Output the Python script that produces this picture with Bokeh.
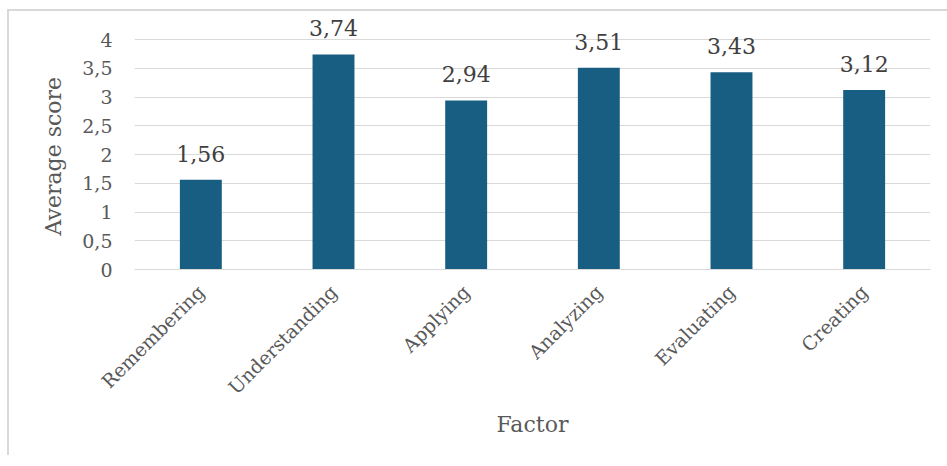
import math
from bokeh.plotting import figure
from bokeh.models import ColumnDataSource, FactorRange, Range1d, FixedTicker, CustomJSTickFormatter, Title
from bokeh.core.properties import value
from bokeh.embed import file_html
from bokeh.resources import INLINE

# Average score per Bloom's taxonomy factor
factors = ["Remembering", "Understanding", "Applying", "Analyzing", "Evaluating", "Creating"]
scores = [1.56, 3.74, 2.94, 3.51, 3.43, 3.12]
y_ticks = [0, 0.5, 1, 1.5, 2, 2.5, 3, 3.5, 4]

FONT = "DejaVu Serif"
BAR = "#175E82"
GRID = "#D9D9D9"
TICK_TXT = "#595959"
VAL_TXT = "#404040"

source = ColumnDataSource(dict(
    factor=factors,
    score=scores,
    label=[f"{s:.2f}".replace(".", ",") for s in scores],
))

p = figure(
    x_range=FactorRange(*factors, range_padding=0),
    y_range=Range1d(0, 4.47),
    frame_width=796, frame_height=257,
    min_border_left=125, min_border_right=17,
    min_border_top=1, min_border_bottom=186,
    output_backend="svg", toolbar_location=None,
    background_fill_color="white", border_fill_color="white",
)
p.styles = {
    "margin-left": "7px", "margin-top": "9px",
    "border-left": f"2px solid {GRID}", "border-top": f"2px solid {GRID}",
}
p.outline_line_color = None

p.vbar(x="factor", top="score", width=0.316, source=source,
       fill_color=BAR, line_color=None)

p.text(x="factor", y="score", text="label", source=source,
       text_align="center", text_baseline="alphabetic", y_offset=-26,
       text_font=value(FONT), text_font_size="22px", text_color=VAL_TXT)

# y axis
p.yaxis.ticker = FixedTicker(ticks=y_ticks)
p.yaxis.formatter = CustomJSTickFormatter(code="return tick.toString().replace('.', ',');")
p.yaxis.axis_line_color = None
p.yaxis.major_tick_line_color = None
p.yaxis.minor_tick_line_color = None
p.yaxis.major_tick_out = 0
p.yaxis.major_label_standoff = 22
p.yaxis.major_label_text_font = FONT
p.yaxis.major_label_text_font_size = "19px"
p.yaxis.major_label_text_color = TICK_TXT

# y axis title, placed along the 0-4 span
p.add_layout(Title(text="Average score", align="left", offset=34, standoff=27,
                   text_font=FONT, text_font_size="22px", text_font_style="normal",
                   text_color=TICK_TXT), "left")

p.ygrid.ticker = FixedTicker(ticks=y_ticks)
p.ygrid.grid_line_color = GRID
p.ygrid.grid_line_width = 1
p.xgrid.grid_line_color = None

# x axis
p.xaxis.axis_line_color = GRID
p.xaxis.axis_line_width = 1
p.xaxis.major_tick_line_color = None
p.xaxis.major_tick_out = 0
p.xaxis.major_label_orientation = math.pi / 4
p.xaxis.major_label_standoff = 19
p.xaxis.major_label_text_font = FONT
p.xaxis.major_label_text_font_size = "19px"
p.xaxis.major_label_text_color = TICK_TXT
p.xaxis.axis_label = "Factor"
p.xaxis.axis_label_text_font = FONT
p.xaxis.axis_label_text_font_size = "22px"
p.xaxis.axis_label_text_font_style = "normal"
p.xaxis.axis_label_text_color = TICK_TXT
p.xaxis.axis_label_standoff = 3

open("out.html", "w").write(file_html(p, INLINE))
